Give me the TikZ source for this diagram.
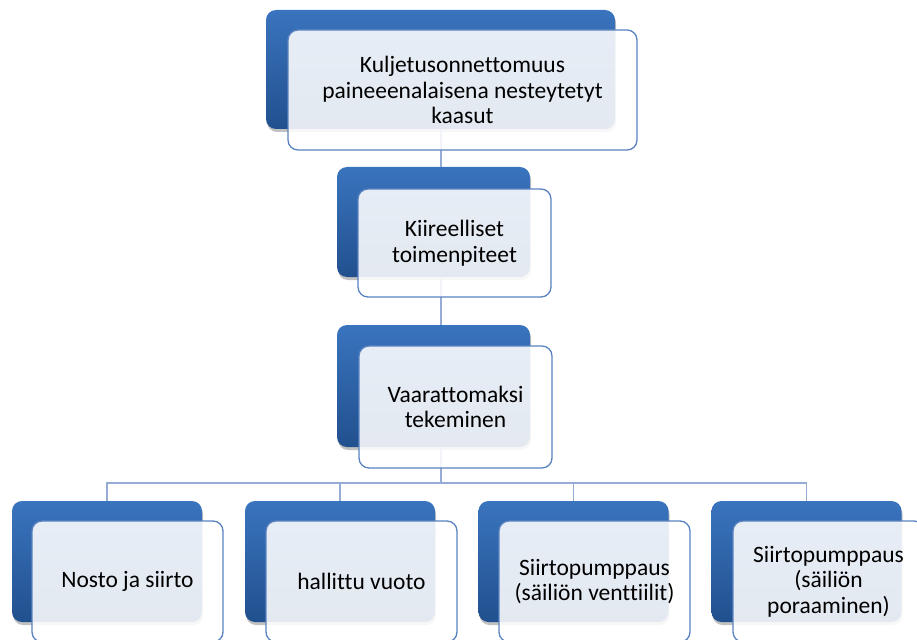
\documentclass[tikz,border=0pt]{standalone}
\usepackage{fontspec}
\setmainfont{Carlito}[Ligatures=NoCommon]
\usetikzlibrary{shadows}
\definecolor{backTop}{HTML}{3A74BE}
\definecolor{backBot}{HTML}{21508E}
\definecolor{frontLine}{HTML}{5A82C0}
\definecolor{connLine}{HTML}{95ACD6}
\begin{document}
\begin{tikzpicture}[x=1pt,y=-1pt,
  backbox/.style={rectangle, rounded corners=10pt, inner sep=0pt, outer sep=0pt,
    top color=backTop, bottom color=backBot, draw=none,
    drop shadow={shadow xshift=1pt, shadow yshift=-3pt, opacity=0.35, fill=black!70}},
  frontbox/.style={rectangle, rounded corners=10pt, inner sep=0pt, outer sep=0pt,
    fill=white, fill opacity=0.88, text opacity=1, draw=frontLine, line width=1.3pt,
    align=center, font=\fontsize{23.5}{25.5}\selectfont, text=black},
  conn/.style={draw=connLine, line width=1.6pt}]
\useasboundingbox (0,0) rectangle (917,639);
\clip (0,0) rectangle (917,639);
% back boxes
\node[backbox, minimum width=349pt, minimum height=119pt] (b1) at (440.5,69.5) {};
\node[backbox, minimum width=193pt, minimum height=110pt] (b2) at (433.5,222) {};
\node[backbox, minimum width=193pt, minimum height=122pt] (b3) at (433.5,386) {};
\node[backbox, minimum width=190pt, minimum height=121pt] (c1) at (107,561.5) {};
\node[backbox, minimum width=190pt, minimum height=121pt] (c2) at (340,561.5) {};
\node[backbox, minimum width=190pt, minimum height=121pt] (c3) at (573.5,561.5) {};
\node[backbox, minimum width=190pt, minimum height=121pt] (c4) at (806.5,561.5) {};
% connectors
\coordinate (bus) at (441,483);
\draw[conn] (b1.south -| bus) -- (b2.north -| bus);
\draw[conn] (b2.south -| bus) -- (b3.north -| bus);
\draw[conn] (b3.south -| bus) -- (bus);
\draw[conn] (c1.north) -- (c1.north |- bus) -- (c4.north |- bus) -- (c4.north);
\draw[conn] (c2.north |- bus) -- (c2.north);
\draw[conn] (c3.north |- bus) -- (c3.north);
% front boxes
\node[frontbox, minimum width=349pt, minimum height=120pt] (f1) at (462.5,90)
  {Kuljetusonnettomuus\\paineeenalaisena nesteytetyt\\kaasut};
\node[frontbox, minimum width=193pt, minimum height=108pt] (f2) at (454.5,243)
  {Kiireelliset\\toimenpiteet};
\node[frontbox, minimum width=193pt, minimum height=122pt] (f3) at (455.5,407)
  {Vaarattomaksi\\tekeminen};
\node[frontbox, minimum width=191pt, minimum height=121pt] (g1) at (127.5,581.5)
  {Nosto ja siirto};
\node[frontbox, minimum width=191pt, minimum height=121pt] (g2) at (361.5,581.5)
  {hallittu vuoto};
\node[frontbox, minimum width=191pt, minimum height=121pt] (g3) at (594.5,581.5)
  {Siirtopumppaus\\(säiliön venttiilit)};
\node[frontbox, minimum width=191pt, minimum height=121pt] (g4) at (828.5,581.5)
  {Siirtopumppaus\\(säiliön\\poraaminen)};
\end{tikzpicture}
\end{document}
